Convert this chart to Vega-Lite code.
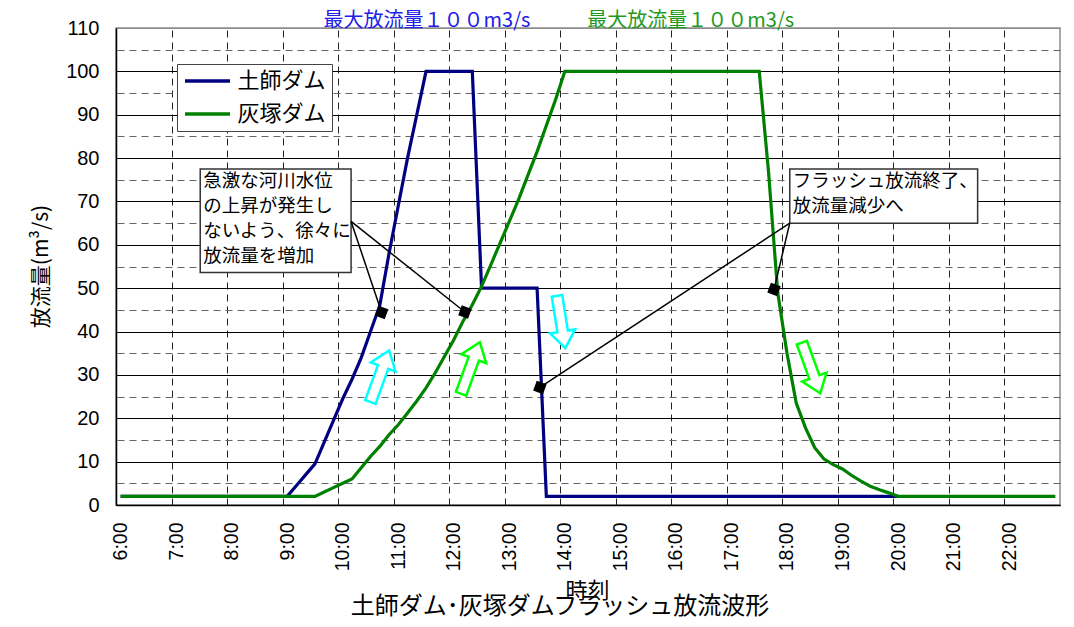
{
  "$schema": "https://vega.github.io/schema/vega-lite/v6.json",
  "width": 944,
  "height": 477,
  "autosize": {"type": "none"},
  "padding": {"left": 116, "top": 28, "right": 14, "bottom": 122},
  "background": "white",
  "config": {
    "view": {"stroke": "#8c8c8c", "strokeWidth": 1.5},
    "font": "Liberation Sans"
  },
  "title": {
    "text": "土師ダム･灰塚ダムフラッシュ放流波形",
    "orient": "bottom",
    "anchor": "middle",
    "frame": "group",
    "font": "Noto Sans CJK JP",
    "fontSize": 24,
    "fontWeight": "normal",
    "color": "#000000",
    "dx": -28,
    "offset": -6
  },
  "datasets": {
    "flows": [
      {"dam": "土師ダム", "minutes": 360, "flow": 2},
      {"dam": "土師ダム", "minutes": 540, "flow": 2},
      {"dam": "土師ダム", "minutes": 550, "flow": 4.5},
      {"dam": "土師ダム", "minutes": 560, "flow": 7},
      {"dam": "土師ダム", "minutes": 570, "flow": 9.5},
      {"dam": "土師ダム", "minutes": 580, "flow": 14.5},
      {"dam": "土師ダム", "minutes": 590, "flow": 19.5},
      {"dam": "土師ダム", "minutes": 600, "flow": 24.5},
      {"dam": "土師ダム", "minutes": 610, "flow": 29},
      {"dam": "土師ダム", "minutes": 620, "flow": 34},
      {"dam": "土師ダム", "minutes": 630, "flow": 40},
      {"dam": "土師ダム", "minutes": 640, "flow": 46},
      {"dam": "土師ダム", "minutes": 650, "flow": 58},
      {"dam": "土師ダム", "minutes": 660, "flow": 69},
      {"dam": "土師ダム", "minutes": 670, "flow": 80},
      {"dam": "土師ダム", "minutes": 680, "flow": 90},
      {"dam": "土師ダム", "minutes": 690, "flow": 100},
      {"dam": "土師ダム", "minutes": 740, "flow": 100},
      {"dam": "土師ダム", "minutes": 750, "flow": 50},
      {"dam": "土師ダム", "minutes": 810, "flow": 50},
      {"dam": "土師ダム", "minutes": 820, "flow": 2},
      {"dam": "土師ダム", "minutes": 1200, "flow": 2},
      {"dam": "灰塚ダム", "minutes": 360, "flow": 2},
      {"dam": "灰塚ダム", "minutes": 570, "flow": 2},
      {"dam": "灰塚ダム", "minutes": 580, "flow": 3},
      {"dam": "灰塚ダム", "minutes": 590, "flow": 4},
      {"dam": "灰塚ダム", "minutes": 600, "flow": 5},
      {"dam": "灰塚ダム", "minutes": 610, "flow": 6},
      {"dam": "灰塚ダム", "minutes": 620, "flow": 8.6},
      {"dam": "灰塚ダム", "minutes": 630, "flow": 11.2},
      {"dam": "灰塚ダム", "minutes": 640, "flow": 13.5},
      {"dam": "灰塚ダム", "minutes": 650, "flow": 16.2},
      {"dam": "灰塚ダム", "minutes": 660, "flow": 18.5},
      {"dam": "灰塚ダム", "minutes": 670, "flow": 21.2},
      {"dam": "灰塚ダム", "minutes": 680, "flow": 24},
      {"dam": "灰塚ダム", "minutes": 690, "flow": 27},
      {"dam": "灰塚ダム", "minutes": 700, "flow": 30.5},
      {"dam": "灰塚ダム", "minutes": 710, "flow": 34.3},
      {"dam": "灰塚ダム", "minutes": 720, "flow": 38.1},
      {"dam": "灰塚ダム", "minutes": 730, "flow": 42.4},
      {"dam": "灰塚ダム", "minutes": 740, "flow": 46.2},
      {"dam": "灰塚ダム", "minutes": 750, "flow": 50.4},
      {"dam": "灰塚ダム", "minutes": 760, "flow": 55.4},
      {"dam": "灰塚ダム", "minutes": 770, "flow": 60.4},
      {"dam": "灰塚ダム", "minutes": 780, "flow": 65.4},
      {"dam": "灰塚ダム", "minutes": 790, "flow": 70.5},
      {"dam": "灰塚ダム", "minutes": 800, "flow": 76},
      {"dam": "灰塚ダム", "minutes": 810, "flow": 81.5},
      {"dam": "灰塚ダム", "minutes": 820, "flow": 87.5},
      {"dam": "灰塚ダム", "minutes": 830, "flow": 93.5},
      {"dam": "灰塚ダム", "minutes": 840, "flow": 100},
      {"dam": "灰塚ダム", "minutes": 1050, "flow": 100},
      {"dam": "灰塚ダム", "minutes": 1060, "flow": 77},
      {"dam": "灰塚ダム", "minutes": 1070, "flow": 49},
      {"dam": "灰塚ダム", "minutes": 1080, "flow": 35},
      {"dam": "灰塚ダム", "minutes": 1090, "flow": 23.5},
      {"dam": "灰塚ダム", "minutes": 1100, "flow": 17.8},
      {"dam": "灰塚ダム", "minutes": 1110, "flow": 13.2},
      {"dam": "灰塚ダム", "minutes": 1120, "flow": 10.6},
      {"dam": "灰塚ダム", "minutes": 1130, "flow": 9.3},
      {"dam": "灰塚ダム", "minutes": 1140, "flow": 8.3},
      {"dam": "灰塚ダム", "minutes": 1150, "flow": 6.8},
      {"dam": "灰塚ダム", "minutes": 1160, "flow": 5.5},
      {"dam": "灰塚ダム", "minutes": 1170, "flow": 4.3},
      {"dam": "灰塚ダム", "minutes": 1180, "flow": 3.5},
      {"dam": "灰塚ダム", "minutes": 1190, "flow": 2.8},
      {"dam": "灰塚ダム", "minutes": 1200, "flow": 2},
      {"dam": "灰塚ダム", "minutes": 1370, "flow": 2}
    ],
    "notes": [
      {"start": 446, "end": 609, "top": 77.5, "bottom": 53.6, "text": ["急激な河川水位", "の上昇が発生し", "ないよう、徐々に", "放流量を増加"]},
      {"start": 1083, "end": 1286, "top": 77.5, "bottom": 65.0, "text": ["フラッシュ放流終了、", "放流量減少へ"]}
    ],
    "leaders": [
      {"from": 609, "fromFlow": 65.4, "to": 642, "toFlow": 44.4},
      {"from": 609, "fromFlow": 65.4, "to": 732, "toFlow": 44.5},
      {"from": 1083, "fromFlow": 65.0, "to": 813, "toFlow": 27.1},
      {"from": 1083, "fromFlow": 65.0, "to": 1066, "toFlow": 49.7}
    ],
    "markers": [
      {"minutes": 642, "flow": 44.4},
      {"minutes": 732, "flow": 44.5},
      {"minutes": 813, "flow": 27.1},
      {"minutes": 1066, "flow": 49.7}
    ],
    "arrows": [
      {"minutes": 640, "flow": 29.7, "dam": "土師ダム", "move": "増加"},
      {"minutes": 738, "flow": 31.6, "dam": "灰塚ダム", "move": "増加"},
      {"minutes": 836, "flow": 42.2, "dam": "土師ダム", "move": "減少"},
      {"minutes": 1106, "flow": 31.6, "dam": "灰塚ダム", "move": "減少"}
    ],
    "caps": [
      {"minutes": 691, "flow": 111.7, "dam": "土師ダム", "text": "最大放流量１００m3/s"},
      {"minutes": 976, "flow": 111.7, "dam": "灰塚ダム", "text": "最大放流量１００m3/s"}
    ]
  },
  "resolve": {"axis": {"x": "independent", "y": "independent"}},
  "layer": [
    {
      "data": {"name": "flows"},
      "mark": {"type": "line", "strokeWidth": 3.2, "strokeJoin": "miter", "clip": false},
      "encoding": {
        "x": {
          "field": "minutes",
          "type": "quantitative",
          "scale": {"domain": [355, 1375], "nice": false, "zero": false},
          "axis": {
            "orient": "bottom",
            "values": [360, 420, 480, 540, 600, 660, 720, 780, 840, 900, 960, 1020, 1080, 1140, 1200, 1260, 1320],
            "labelExpr": "floor(datum.value / 60) + ':00'",
            "labelAngle": 270,
            "labelAlign": "right",
            "labelBaseline": "middle",
            "labelFont": "Liberation Sans",
            "labelFontSize": 19.5,
            "labelColor": "#000000",
            "labelPadding": 17,
            "labelFlush": false,
            "labelOverlap": false,
            "ticks": false,
            "tickSize": 0,
            "grid": false,
            "domainColor": "#000000",
            "domainWidth": 1.5,
            "title": "時刻",
            "titleFont": "Noto Sans CJK JP",
            "titleFontSize": 22,
            "titleFontWeight": "normal",
            "titleColor": "#000000",
            "titleX": 471,
            "titleY": 85,
            "titleAlign": "center",
            "titleBaseline": "middle"
          }
        },
        "y": {
          "field": "flow",
          "type": "quantitative",
          "scale": {"domain": [0, 110], "nice": false, "zero": true},
          "axis": {
            "orient": "left",
            "values": [0, 10, 20, 30, 40, 50, 60, 70, 80, 90, 100, 110],
            "labelFont": "Liberation Sans",
            "labelFontSize": 20,
            "labelColor": "#000000",
            "labelPadding": 17,
            "ticks": false,
            "tickSize": 0,
            "grid": true,
            "gridColor": {"condition": {"test": "datum.value == 110", "value": "#8c8c8c"}, "value": "#000000"},
            "gridWidth": 1,
            "gridOpacity": 1,
            "domainColor": "#000000",
            "domainWidth": 1.5,
            "title": "放流量(m³/s)",
            "titleFont": "Noto Sans CJK JP",
            "titleFontSize": 21,
            "titleFontWeight": "normal",
            "titleColor": "#000000",
            "titleAngle": 270,
            "titleX": -75,
            "titleY": 238,
            "titleAlign": "center",
            "titleBaseline": "middle"
          }
        },
        "color": {
          "field": "dam",
          "type": "nominal",
          "scale": {"domain": ["土師ダム", "灰塚ダム"], "range": ["#000080", "#008000"]},
          "legend": {
            "orient": "none",
            "legendX": 61,
            "legendY": 36,
            "title": null,
            "direction": "vertical",
            "symbolType": "M-2.5,0H2.5",
            "symbolSize": 324,
            "symbolStrokeWidth": 3.5,
            "symbolOffset": 13.5,
            "labelOffset": 19,
            "labelFont": "Noto Sans CJK JP",
            "labelFontSize": 22,
            "labelColor": "#000000",
            "rowPadding": 11,
            "padding": 6,
            "strokeColor": "#444444",
            "fillColor": "#ffffff"
          }
        }
      }
    },
    {
      "data": {"name": "notes"},
      "encoding": {
        "x": {"field": "start", "type": "quantitative", "scale": {"domain": [355, 1375], "nice": false, "zero": false}, "axis": null},
        "y": {"field": "top", "type": "quantitative", "scale": {"domain": [0, 110], "nice": false}, "axis": null}
      },
      "layer": [
        {
          "mark": {"type": "rect", "fill": "#ffffff", "stroke": "#333333", "strokeWidth": 1.5},
          "encoding": {
            "x2": {"field": "end"},
            "y2": {"field": "bottom"}
          }
        },
        {
          "mark": {"type": "text", "font": "Noto Sans CJK JP", "fontSize": 18.5, "align": "left", "baseline": "top", "lineHeight": 25, "dx": 3, "dy": 3, "color": "#000000"},
          "encoding": {
            "text": {"field": "text"}
          }
        }
      ]
    },
    {
      "data": {"name": "leaders"},
      "mark": {"type": "rule", "color": "#000000", "strokeWidth": 1.5},
      "encoding": {
        "x": {"field": "from", "type": "quantitative", "scale": {"domain": [355, 1375], "nice": false, "zero": false}, "axis": null},
        "x2": {"field": "to"},
        "y": {"field": "fromFlow", "type": "quantitative", "scale": {"domain": [0, 110], "nice": false}, "axis": null},
        "y2": {"field": "toFlow"}
      }
    },
    {
      "data": {"name": "markers"},
      "mark": {"type": "point", "shape": "square", "filled": true, "color": "#000000", "opacity": 1, "size": 110, "angle": 20},
      "encoding": {
        "x": {
          "field": "minutes",
          "type": "quantitative",
          "scale": {"domain": [355, 1375], "nice": false, "zero": false},
          "axis": {
            "orient": "top",
            "values": [415, 475, 535, 595, 655, 715, 775, 835, 895, 955, 1015, 1075, 1135, 1195, 1255, 1315],
            "grid": true,
            "gridDash": [7, 5],
            "gridColor": "#222222",
            "gridWidth": 1,
            "gridOpacity": 1,
            "labels": false,
            "ticks": false,
            "domain": false,
            "title": null
          }
        },
        "y": {
          "field": "flow",
          "type": "quantitative",
          "scale": {"domain": [0, 110], "nice": false},
          "axis": {
            "orient": "right",
            "values": [5, 15, 25, 35, 45, 55, 65, 75, 85, 95, 105],
            "grid": true,
            "gridDash": [7, 5],
            "gridColor": "#666666",
            "gridWidth": 1,
            "gridOpacity": 1,
            "labels": false,
            "ticks": false,
            "domain": false,
            "title": null
          }
        }
      }
    },
    {
      "data": {"name": "arrows"},
      "encoding": {
        "x": {"field": "minutes", "type": "quantitative", "scale": {"domain": [355, 1375], "nice": false, "zero": false}, "axis": null},
        "y": {"field": "flow", "type": "quantitative", "scale": {"domain": [0, 110], "nice": false}, "axis": null},
        "stroke": {"field": "dam", "type": "nominal", "scale": {"domain": ["土師ダム", "灰塚ダム"], "range": ["#00ffff", "#00ff00"]}, "legend": null}
      },
      "layer": [
        {
          "transform": [{"filter": "datum.move == '増加'"}],
          "mark": {"type": "point", "shape": "M0,-1L0.48,-0.36L0.2,-0.36L0.2,1L-0.2,1L-0.2,-0.36L-0.48,-0.36Z", "filled": true, "fill": "#ffffff", "opacity": 1, "strokeWidth": 2.5, "size": 3000, "angle": 20}
        },
        {
          "transform": [{"filter": "datum.dam == '土師ダム' && datum.move == '減少'"}],
          "mark": {"type": "point", "shape": "M0,-1L0.48,-0.36L0.2,-0.36L0.2,1L-0.2,1L-0.2,-0.36L-0.48,-0.36Z", "filled": true, "fill": "#ffffff", "opacity": 1, "strokeWidth": 2.5, "size": 2800, "angle": 171}
        },
        {
          "transform": [{"filter": "datum.dam == '灰塚ダム' && datum.move == '減少'"}],
          "mark": {"type": "point", "shape": "M0,-1L0.48,-0.36L0.2,-0.36L0.2,1L-0.2,1L-0.2,-0.36L-0.48,-0.36Z", "filled": true, "fill": "#ffffff", "opacity": 1, "strokeWidth": 2.5, "size": 2900, "angle": 160}
        }
      ]
    },
    {
      "data": {"name": "caps"},
      "mark": {"type": "text", "font": "Noto Sans CJK JP", "fontSize": 20, "align": "center", "baseline": "middle"},
      "encoding": {
        "x": {"field": "minutes", "type": "quantitative", "scale": {"domain": [355, 1375], "nice": false, "zero": false}, "axis": null},
        "y": {"field": "flow", "type": "quantitative", "scale": {"domain": [0, 110], "nice": false}, "axis": null},
        "text": {"field": "text"},
        "fill": {"field": "dam", "type": "nominal", "scale": {"domain": ["土師ダム", "灰塚ダム"], "range": ["#2020e8", "#1f9a1f"]}, "legend": null}
      }
    }
  ]
}
